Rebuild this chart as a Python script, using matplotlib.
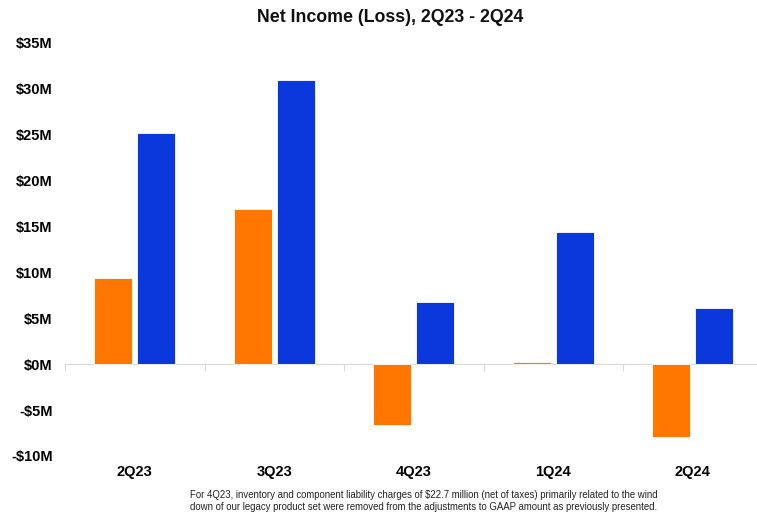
import numpy as np
import matplotlib
matplotlib.use("Agg")
import matplotlib.pyplot as plt
from matplotlib.ticker import FuncFormatter

plt.rcParams['font.family'] = ['Liberation Sans', 'DejaVu Sans']

quarters = ['2Q23', '3Q23', '4Q23', '1Q24', '2Q24']
gaap_net_income = [9.4, 16.9, -6.65, 0.2, -7.95]      # $M, orange
adjusted_net_income = [25.2, 31.0, 6.75, 14.4, 6.1]   # $M, blue

orange = '#FF7700'
blue = '#0A38DC'

fig = plt.figure(figsize=(7.57, 5.16), dpi=100)
ax = fig.add_axes([65 / 757, 60 / 516, 697.5 / 757, 413 / 516])

x = np.arange(len(quarters))
w = 0.275
off = 0.154
ax.bar(x - off, gaap_net_income, w, color=orange, edgecolor='white', linewidth=0.6, zorder=3)
ax.bar(x + off, adjusted_net_income, w, color=blue, edgecolor='white', linewidth=0.6, zorder=3)

ax.set_xlim(-0.5, len(quarters) - 0.5)
ax.set_ylim(-10, 35)
ax.set_yticks(np.arange(-10, 36, 5))
ax.yaxis.set_major_formatter(FuncFormatter(lambda v, p: f'-${-v:.0f}M' if v < 0 else f'${v:.0f}M'))
ax.tick_params(axis='y', length=0, pad=9, labelsize=10.5)
for t in ax.get_yticklabels():
    t.set_fontweight('bold')

for s in ['left', 'right', 'top']:
    ax.spines[s].set_visible(False)
ax.spines['bottom'].set_position(('data', 0))
ax.spines['bottom'].set_color('#d9d9d9')
ax.spines['bottom'].set_zorder(2)
ax.set_xticks(np.arange(len(quarters) + 1) - 0.5)
ax.tick_params(axis='x', length=5, color='#d9d9d9', labelbottom=False)

sec = ax.secondary_xaxis(0.0)
sec.set_xticks(x, quarters)
sec.tick_params(length=0, pad=6.5, labelsize=10.5)
sec.spines['bottom'].set_visible(False)
for t in sec.get_xticklabels():
    t.set_fontweight('bold')

fig.text(390 / 757, 1 - 18 / 516, 'Net Income (Loss), 2Q23 - 2Q24', ha='center', va='center',
         fontsize=12.8, fontweight='bold', color='#111111')
fig.text(190 / 757, 1 - 501 / 516,
         'For 4Q23, inventory and component liability charges of $22.7 million (net of taxes) primarily related to the wind\n'
         'down of our legacy product set were removed from the adjustments to GAAP amount as previously presented.',
         ha='left', va='center', fontsize=6.9, color='#222222', linespacing=1.25)

fig.savefig('out.png', dpi=100)
